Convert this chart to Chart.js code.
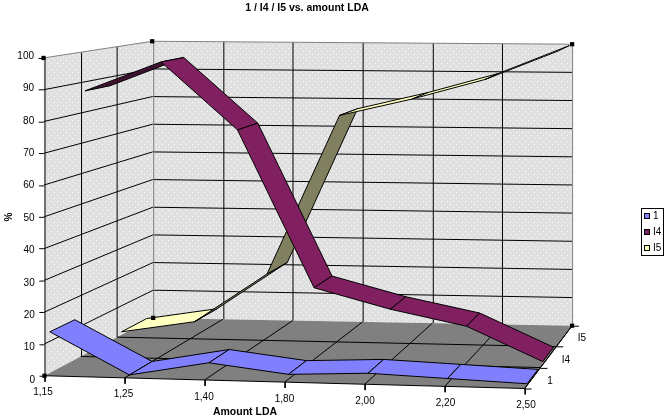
<!DOCTYPE html>
<html>
<head>
<meta charset="utf-8">
<style>
	html, body { margin: 0; padding: 0; background: #fff; }
	canvas { display: block; }
</style>
<script src="https://cdn.jsdelivr.net/npm/chart.js@4/dist/chart.umd.min.js"></script>
</head>
<body>
<canvas id="chart" width="668" height="418"></canvas>
<script>
var categories = ['1,15', '1,25', '1,40', '1,80', '2,00', '2,20', '2,50'];
var seriesNames = ['1', 'I4', 'I5'];
var valueTicks = [0, 10, 20, 30, 40, 50, 60, 70, 80, 90, 100];
var valuesOne = [13, 0, 4.5, 1.5, 2.5, 1.5, 0.5];
var valuesI4 = [87, 97, 75, 23.5, 17, 12, 1];
var valuesI5 = [1, 5, 22, 77, 83, 90, 100];

var topColors = ['#8080ff', '#802060', '#ffffc0'];
var underColors = ['#404080', '#401030', '#808060'];
var slots = [[0.05, 0.28], [0.38, 0.61], [0.71, 0.94]];

// corners of the 3d box on the canvas, [bottom, top]
var FL = [[41, 379], [40, 55]];
var BL = [[151, 320], [150, 38]];
var BR = [[575, 328], [575, 41]];
var FR = [[527, 392], [526, 65]];

function mix(a, b, t) {
	return [a[0] + (b[0] - a[0]) * t, a[1] + (b[1] - a[1]) * t];
}

// u along categories, w into the depth, v is the value 0-100
function project(u, w, v) {
	var t = v / 100;
	var f = mix(mix(FL[0], FL[1], t), mix(FR[0], FR[1], t), u);
	var b = mix(mix(BL[0], BL[1], t), mix(BR[0], BR[1], t), u);
	var p = mix(f, b, w);
	return {x: p[0], y: p[1]};
}

function catU(i) {
	return i / (categories.length - 1);
}

function wallPattern() {
	var c = document.createElement('canvas');
	c.width = 6;
	c.height = 6;
	var g = c.getContext('2d');
	g.fillStyle = '#e0e0e0';
	g.fillRect(0, 0, 6, 6);
	g.fillStyle = '#ffffff';
	g.fillRect(0, 0, 1, 1);
	g.fillRect(3, 3, 1, 1);
	return g.createPattern(c, 'repeat');
}

var datasets = [];

function poly(pts, fill, stroke) {
	datasets.push({
		data: pts.concat([pts[0]]),
		showLine: true,
		fill: 'shape',
		backgroundColor: fill,
		borderColor: stroke || fill,
		borderWidth: stroke ? 1 : 0,
		pointRadius: 0
	});
}

function line(a, b, color) {
	// keep the upright lines on one pixel column, like the other horizontal ticks
	if (Math.abs(a.x - b.x) < 1.5) {
		var sx = Math.round(a.x) + 0.5;
		a = {x: sx, y: a.y};
		b = {x: sx, y: b.y};
	}
	if (Math.abs(a.y - b.y) < 0.01) {
		var sy = Math.round(a.y) + 0.5;
		a = {x: a.x, y: sy};
		b = {x: b.x, y: sy};
	}
	datasets.push({
		data: [a, b],
		showLine: true,
		fill: false,
		borderColor: color || '#000',
		borderWidth: 1,
		pointRadius: 0
	});
}

function ribbon(values, k) {
	var w0 = slots[k][0], w1 = slots[k][1];
	for (var i = 0; i < values.length - 1; i++) {
		var a = project(catU(i), w0, values[i]);
		var b = project(catU(i + 1), w0, values[i + 1]);
		var c = project(catU(i + 1), w1, values[i + 1]);
		var d = project(catU(i), w1, values[i]);
		var pts = [a, b, c, d], area = 0;
		for (var j = 0; j < 4; j++) {
			var q = pts[(j + 1) % 4];
			area += pts[j].x * q.y - q.x * pts[j].y;
		}
		poly(pts, area < 0 ? topColors[k] : underColors[k], '#000');
	}
}

function buildScene() {
	var pattern = wallPattern();
	var i;
	// walls and floor
	poly([project(0, 0, 0), project(0, 1, 0), project(0, 1, 100), project(0, 0, 100)], pattern);
	poly([project(0, 1, 0), project(1, 1, 0), project(1, 1, 100), project(0, 1, 100)], pattern);
	poly([project(0, 0, 0), project(1, 0, 0), project(1, 1, 0), project(0, 1, 0)], '#808080');

	// value grid
	valueTicks.forEach(function (v) {
		if (v === 0 || v === 100) return;
		line(project(0, 0, v), project(0, 1, v));
		line(project(0, 1, v), project(1, 1, v));
	});
	// verticals on the walls
	for (i = 1; i < categories.length - 1; i++) {
		line(project(catU(i), 1, 0), project(catU(i), 1, 100));
	}
	[1 / 3, 2 / 3].forEach(function (w) {
		line(project(0, w, 0), project(0, w, 100));
	});
	// wall edges
	line(project(0, 0, 0), project(0, 0, 100));
	line(project(0, 1, 0), project(0, 1, 100), '#808080');
	line(project(1, 1, 0), project(1, 1, 100), '#808080');
	line(project(0, 0, 100), project(0, 1, 100), '#808080');
	line(project(0, 1, 100), project(1, 1, 100), '#808080');
	// floor grid
	for (i = 1; i < categories.length; i++) {
		line(project(catU(i), 0, 0), project(catU(i), 1, 0));
	}
	[1 / 3, 2 / 3].forEach(function (w) {
		line(project(0, w, 0), project(1, w, 0));
	});
	line(project(0, 0, 0), project(1, 0, 0));
	line(project(1, 0, 0), project(1, 1, 0), '#000');

	// ticks
	categories.forEach(function (c, n) {
		var p = project(catU(n), 0, 0);
		line(p, {x: p.x, y: p.y + 6});
	});
	valueTicks.forEach(function (v) {
		var p = project(0, 0, v);
		line(p, {x: p.x - 5, y: p.y});
	});
	[0, 1 / 3, 2 / 3, 1].forEach(function (w) {
		var p = project(1, w, 0);
		line(p, {x: p.x + 7, y: p.y});
	});

	// back to front
	ribbon(valuesI5, 2);
	ribbon(valuesI4, 1);
	ribbon(valuesOne, 0);

	// corner handles
	datasets.push({
		data: [project(0, 0, 0), project(0, 0, 100), project(0, 1, 100), project(1, 1, 100), project(0, 1, 0), project(1, 1, 0)],
		showLine: false,
		pointStyle: 'rect',
		pointRadius: 3,
		pointBackgroundColor: '#000',
		pointBorderWidth: 0
	});
}

var textPlugin = {
	id: 'chartText',
	afterDraw: function (chart) {
		var ctx = chart.ctx;
		ctx.save();
		ctx.fillStyle = '#000';
		ctx.textBaseline = 'middle';

		ctx.textAlign = 'center';
		ctx.font = 'bold 10.5px "Liberation Sans"';
		ctx.fillText('1 / I4 / I5 vs. amount LDA', 307, 8);
		ctx.fillText('Amount LDA', 245, 412);

		ctx.font = '10px "Liberation Sans"';
		categories.forEach(function (c, n) {
			var p = project(catU(n), 0, 0);
			ctx.fillText(c, p.x + 2 - n * 0.5, p.y + 13.5);
		});
		seriesNames.forEach(function (s, n) {
			var p = project(1, (n + 0.5) / 3, 0);
			ctx.fillText(s, p.x + 15, p.y);
		});

		ctx.textAlign = 'right';
		valueTicks.forEach(function (v) {
			var p = project(0, 0, v);
			ctx.fillText(String(v), p.x - 6, p.y + 1);
		});

		ctx.save();
		ctx.translate(9, 217);
		ctx.rotate(-Math.PI / 2);
		ctx.textAlign = 'center';
		ctx.font = 'bold 10px "Liberation Sans"';
		ctx.fillText('%', 0, 0);
		ctx.restore();

		// legend
		ctx.strokeStyle = '#000';
		ctx.lineWidth = 1;
		ctx.strokeRect(641.5, 208.5, 22, 47);
		ctx.textAlign = 'left';
		seriesNames.forEach(function (s, n) {
			var y = 213 + n * 16;
			ctx.fillStyle = topColors[n];
			ctx.fillRect(644.5, y + 0.5, 5, 5);
			ctx.strokeRect(644.5, y + 0.5, 5, 5);
			ctx.fillStyle = '#000';
			ctx.fillText(s, 653, y + 3);
		});
		ctx.restore();
	}
};

buildScene();

new Chart(document.getElementById('chart').getContext('2d'), {
	type: 'scatter',
	data: {datasets: datasets.slice().reverse()},
	options: {
		responsive: false,
		animation: false,
		events: [],
		layout: {padding: 0},
		plugins: {legend: {display: false}, title: {display: false}, tooltip: {enabled: false}},
		scales: {
			x: {type: 'linear', min: 0, max: 668, display: false},
			y: {type: 'linear', min: 0, max: 418, reverse: true, display: false}
		}
	},
	plugins: [textPlugin]
});
</script>
</body>
</html>
